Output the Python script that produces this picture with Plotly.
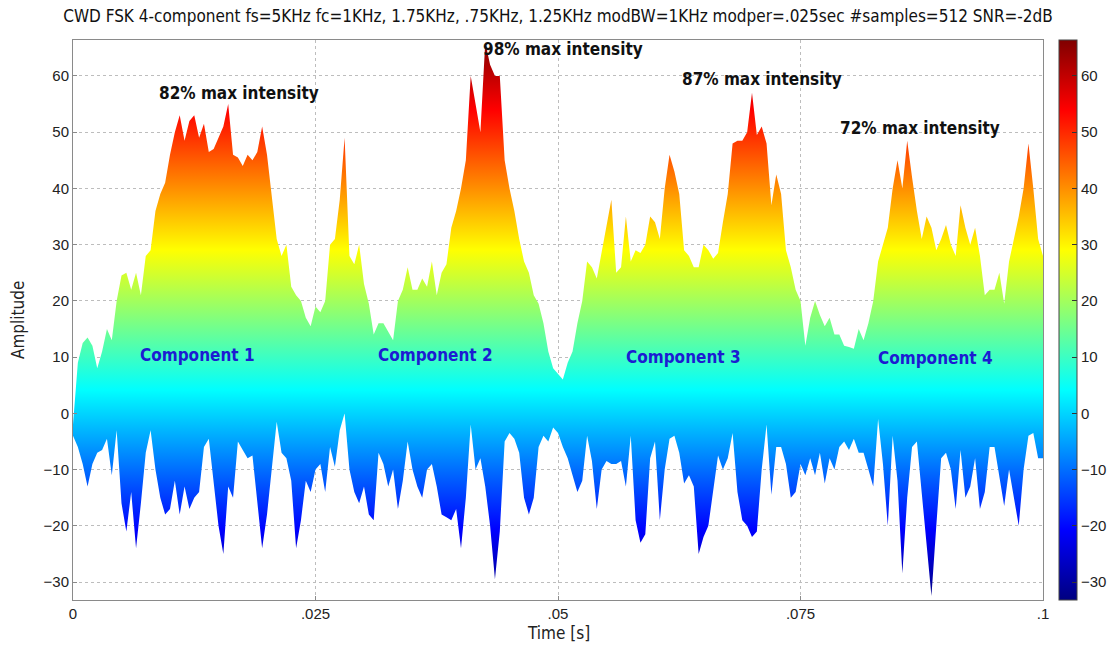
import plotly.graph_objects as go

# ---------------- data ----------------
T_STEP = 0.0005  # sampling step of the read envelope [s]

upper = [
    -2, 9, 12.5, 13.5, 12, 8, 11, 15, 13, 20,
    24.5, 25, 22, 25, 21, 28, 29, 36, 39, 41,
    46, 50, 53, 48.5, 52, 53, 49, 51.5, 46.5, 47,
    49, 51, 55, 46, 45.5, 44, 46, 45, 46.5, 51,
    46, 39, 31, 28, 30, 22.5, 21, 20, 17, 15.5,
    19, 18, 20, 30, 31, 38, 49, 28, 26.5, 30,
    23, 19.5, 14, 16, 16, 14.5, 13, 20, 22, 26,
    22, 22, 24, 22.5, 27, 21, 25, 26.5, 33, 36,
    40, 45, 60, 55, 50, 66, 62, 60, 60, 45,
    40, 36, 31, 27, 25, 21, 19.5, 16, 11, 8,
    7, 6, 9, 11, 16, 20, 27, 26, 24, 28.5,
    33, 38, 25, 26, 35, 27, 29, 28.5, 30, 35,
    34, 31, 40, 46, 43, 39, 29, 28, 26, 26,
    30, 29, 27.5, 28.5, 34, 39, 48, 48.5, 48.5, 50,
    57, 49.5, 51, 48, 37, 42.5, 39, 29, 26, 22,
    20, 12, 17, 20, 17.5, 15.5, 17, 14, 14, 12,
    11.8, 11.5, 15, 13, 16, 20, 27, 30, 33, 40,
    45, 40, 48.5, 42, 36, 31, 35, 33, 29, 31,
    33.5, 30, 28, 37, 33, 30, 33, 28, 21, 22,
    22, 25, 19.5, 27, 31, 35, 40, 48, 40, 31,
    28,
]

lower = [
    -4, -6, -9, -13, -9, -7, -6.5, -4.5, -11, -3,
    -16, -21, -14, -24, -16, -7, -3, -10, -15, -18,
    -17, -12, -18, -13, -17, -15, -14, -6, -4.5, -12,
    -20, -25, -13, -15, -5, -6.5, -8, -7.5, -16, -24,
    -18, -10, -1.5, -7, -8, -12, -24, -19, -12, -14,
    -10, -9, -14, -6, -9.5, -3, 0, -10, -14, -16,
    -13, -18, -19, -7, -9, -13, -10, -17, -12, -5,
    -10, -13, -15, -10, -9, -13, -18, -18.5, -19, -17,
    -24, -15, -2, -10, -8, -13, -20, -29.5, -21, -5,
    -3.5, -4.5, -7, -15, -18, -15, -6, -4, -5, -2.5,
    -3.5, -6, -8, -11, -14, -12, -4, -8.5, -17, -10,
    -8.5, -9, -9, -8.5, -13, -4, -19, -23, -21.5, -8,
    -5, -19, -10, -4.5, -4, -7, -12.5, -11, -13, -25,
    -22, -20, -13.5, -7.5, -10, -8, -3.5, -14, -19, -20,
    -22, -21, -10, -2, -14.5, -6, -6, -9, -15, -14,
    -9, -11, -8, -11, -7, -12.5, -8, -10, -6, -5,
    -6.5, -4.5, -7, -7, -10, -13, -1, -9, -20, -4,
    -12, -28.5, -15, -6, -5, -14, -24, -32.5, -20, -8,
    -7, -10, -17, -6.5, -15, -13, -8, -17, -14, -6,
    -6, -11, -16.5, -10, -15, -20, -10, -4, -3.5, -8,
    -8,
]

time = [i * T_STEP for i in range(len(upper))]

x_tickvals = [0, 0.025, 0.05, 0.075, 0.1]
x_ticktext = ["0", ".025", ".05", ".075", ".1"]
y_tickvals = [-30, -20, -10, 0, 10, 20, 30, 40, 50, 60]

peak_labels = ["82% max intensity", "98% max intensity", "87% max intensity", "72% max intensity"]
peak_pos = [(0.0171, 57.0), (0.0505, 64.8), (0.0710, 59.5), (0.0873, 50.8)]
comp_labels = ["Component 1", "Component 2", "Component 3", "Component 4"]
comp_pos = [(0.0128, 10.4), (0.0374, 10.4), (0.0629, 10.0), (0.0889, 9.9)]

Y_MIN, Y_MAX = -33.2, 66.4

# ---------------- styling ----------------
JET = [
    [0.0, "rgb(0,0,128)"],
    [0.125, "rgb(0,0,255)"],
    [0.375, "rgb(0,255,255)"],
    [0.625, "rgb(255,255,0)"],
    [0.875, "rgb(255,0,0)"],
    [1.0, "rgb(128,0,0)"],
]
NARROW = "Liberation Sans Narrow, DejaVu Sans Condensed, Arial Narrow, Roboto, sans-serif"
REG = "Liberation Sans, Arial, sans-serif"

fig = go.Figure()

fig.add_trace(go.Scatter(
    x=time, y=lower, mode="lines", line=dict(width=0, color="rgba(0,0,0,0)"),
    hoverinfo="skip", showlegend=False,
))
fig.add_trace(go.Scatter(
    x=time, y=upper, mode="lines", line=dict(width=0, color="rgba(0,0,0,0)"),
    fill="tonexty",
    fillgradient=dict(type="vertical", colorscale=JET, start=Y_MIN, stop=Y_MAX),
    hoverinfo="skip", showlegend=False,
))
# colorbar carrier
fig.add_trace(go.Scatter(
    x=[time[0], time[0]], y=[lower[0], lower[0]], mode="markers",
    marker=dict(size=0.1, opacity=0, color=[Y_MIN, Y_MAX], colorscale=JET,
                cmin=Y_MIN, cmax=Y_MAX, showscale=True,
                colorbar=dict(
                    x=1.0165, xanchor="left", xpad=0, y=0.5, yanchor="middle",
                    len=1.0, lenmode="fraction", ypad=0, thickness=18,
                    outlinewidth=1, outlinecolor="#444",
                    tickvals=y_tickvals, ticks="inside", ticklen=5,
                    tickcolor="#333", tickfont=dict(family=REG, size=15, color="#222"),
                )),
    hoverinfo="skip", showlegend=False,
))

annotations = []
for txt, (tx, ty) in zip(peak_labels, peak_pos):
    annotations.append(dict(x=tx, y=ty, xref="x", yref="y", text=f"<b>{txt}</b>",
                            showarrow=False, font=dict(family=NARROW, size=17, color="#111")))
for txt, (tx, ty) in zip(comp_labels, comp_pos):
    annotations.append(dict(x=tx, y=ty, xref="x", yref="y", text=f"<b>{txt}</b>",
                            showarrow=False, font=dict(family=NARROW, size=17, color="#1c1cd2")))
annotations.append(dict(x=0.5, y=-0.059, xref="paper", yref="paper", text="Time [s]",
                        showarrow=False, font=dict(family=NARROW, size=17, color="#222"),
                        xanchor="center", yanchor="middle"))
annotations.append(dict(x=-0.0567, y=0.5, xref="paper", yref="paper", text="Amplitude",
                        textangle=-90, showarrow=False,
                        font=dict(family=NARROW, size=17, color="#222"),
                        xanchor="center", yanchor="middle"))

fig.update_layout(
    width=1118, height=653,
    margin=dict(l=73, r=75, t=40, b=53, autoexpand=False),
    paper_bgcolor="white", plot_bgcolor="white",
    title=dict(text="CWD FSK 4-component fs=5KHz fc=1KHz, 1.75KHz, .75KHz, 1.25KHz modBW=1KHz "
                    "modper=.025sec #samples=512 SNR=-2dB",
               x=0.5, xref="paper", xanchor="center", y=1 - 16 / 653, yanchor="middle",
               font=dict(family=NARROW, size=17, color="#111")),
    annotations=annotations,
    showlegend=False,
)
fig.update_xaxes(
    range=[0, 0.1], tickvals=x_tickvals, ticktext=x_ticktext,
    showgrid=True, gridcolor="#bdbdbd", griddash="dot", gridwidth=1,
    showline=True, linecolor="#8a8a8a", linewidth=1, mirror=True,
    ticks="inside", ticklen=4, tickcolor="#8a8a8a",
    tickfont=dict(family=REG, size=15, color="#222"), zeroline=False,
)
fig.update_yaxes(
    range=[Y_MIN, Y_MAX], tickvals=y_tickvals,
    showgrid=True, gridcolor="#bdbdbd", griddash="dot", gridwidth=1,
    showline=True, linecolor="#8a8a8a", linewidth=1, mirror=True,
    ticks="inside", ticklen=4, tickcolor="#8a8a8a",
    tickfont=dict(family=REG, size=15, color="#222"), zeroline=False,
)

fig.write_html("out.html")
